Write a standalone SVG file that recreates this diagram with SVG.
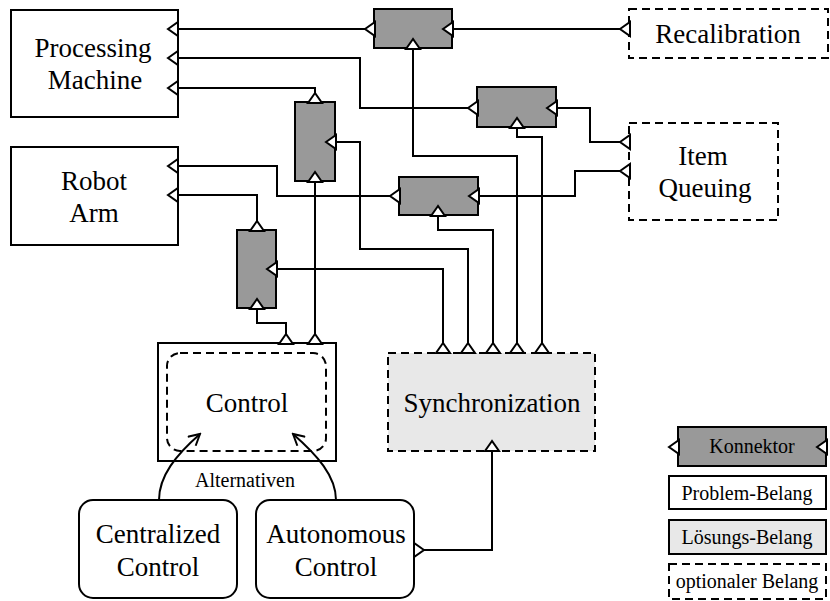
<svg xmlns="http://www.w3.org/2000/svg" width="830" height="601" viewBox="0 0 830 601">
<style>
text{font-family:"Liberation Serif","Times New Roman",serif;fill:#000;text-anchor:middle}
.t{font-size:27px}
.s{font-size:20px}
.box{fill:#fff;stroke:#000;stroke-width:2}
.opt{fill:#fff;stroke:#000;stroke-width:2;stroke-dasharray:8,5}
.sol{fill:#e8e8e8;stroke:#000;stroke-width:2;stroke-dasharray:8,5}
.con{fill:#999;stroke:#000;stroke-width:2}
.w{fill:none;stroke:#000;stroke-width:2}
.p{fill:#fff;stroke:#000;stroke-width:2;stroke-linejoin:miter}
</style>
<defs>
<polygon id="pl" class="p" points="0,0 10,-7 10,7"/>
<polygon id="pu" class="p" points="0,0 -7,10 7,10"/>
<polygon id="pr" class="p" points="0,0 -10,-7 -10,7"/>
<marker id="ah" viewBox="0 0 14 14" refX="12" refY="7" markerWidth="14" markerHeight="14" markerUnits="userSpaceOnUse" orient="auto">
<path d="M1,1 L12,7 L1,13" fill="none" stroke="#000" stroke-width="2"/>
</marker>
</defs>

<g id="connectors">
<polyline class="w" points="178,29 365,29"/>
<polyline class="w" points="452,29 620,29"/>
<polyline class="w" points="178,58 360,58 360,108 468,108"/>
<polyline class="w" points="556,108 590,108 590,142 620,142"/>
<polyline class="w" points="178,88 315,88 315,93"/>
<polyline class="w" points="335,142 360,142 360,249 468,249 468,343"/>
<polyline class="w" points="315,181 315,334"/>
<polyline class="w" points="178,166 277,166 277,196 390,196"/>
<polyline class="w" points="478,196 575,196 575,171 620,171"/>
<polyline class="w" points="178,195 257,195 257,221"/>
<polyline class="w" points="276,269 443,269 443,343"/>
<polyline class="w" points="257,308 257,323 286,323 286,334"/>
<polyline class="w" points="438,215 438,230 493,230 493,343"/>
<polyline class="w" points="413,48 413,156 517,156 517,343"/>
<polyline class="w" points="517,127 517,137 542,137 542,343"/>
<polyline class="w" points="492,451 492,550 424,550"/>
</g>

<g id="processing-machine">
<rect class="box" x="11" y="10" width="167" height="107"/>
<text class="t" x="93" y="57">Processing</text>
<text class="t" x="95" y="89">Machine</text>
<use href="#pl" x="168" y="29"/>
<use href="#pl" x="168" y="58"/>
<use href="#pl" x="168" y="88"/>
</g>

<g id="robot-arm">
<rect class="box" x="11" y="147" width="167" height="98"/>
<text class="t" x="94" y="190">Robot</text>
<text class="t" x="94" y="222">Arm</text>
<use href="#pl" x="168" y="166"/>
<use href="#pl" x="168" y="195"/>
</g>

<g id="recalibration">
<rect class="opt" x="629" y="9" width="199" height="49"/>
<text class="t" x="728" y="43">Recalibration</text>
<use href="#pl" x="620" y="29"/>
</g>

<g id="item-queuing">
<rect class="opt" x="629" y="123" width="149" height="97"/>
<text class="t" x="703" y="165">Item</text>
<text class="t" x="705" y="197">Queuing</text>
<use href="#pl" x="620" y="142"/>
<use href="#pl" x="620" y="171"/>
</g>

<g id="connector-1">
<rect class="con" x="374" y="9" width="78" height="39"/>
<use href="#pl" x="365" y="29"/>
<use href="#pl" x="443" y="29"/>
<use href="#pu" x="413" y="39"/>
</g>

<g id="connector-2">
<rect class="con" x="477" y="87" width="79" height="40"/>
<use href="#pl" x="468" y="108"/>
<use href="#pl" x="547" y="108"/>
<use href="#pu" x="517" y="118"/>
</g>

<g id="connector-3">
<rect class="con" x="295" y="102" width="40" height="79"/>
<use href="#pu" x="315" y="93"/>
<use href="#pl" x="326" y="142"/>
<use href="#pu" x="315" y="172"/>
</g>

<g id="connector-5">
<rect class="con" x="399" y="177" width="79" height="38"/>
<use href="#pl" x="390" y="196"/>
<use href="#pl" x="469" y="196"/>
<use href="#pu" x="438" y="206"/>
</g>

<g id="connector-4">
<rect class="con" x="237" y="230" width="39" height="78"/>
<use href="#pu" x="257" y="221"/>
<use href="#pl" x="267" y="269"/>
<use href="#pu" x="257" y="299"/>
</g>

<g id="control">
<rect class="box" x="158" y="343" width="178" height="118"/>
<rect x="167" y="353" width="159" height="98" rx="13" ry="13" fill="none" stroke="#000" stroke-width="2" stroke-dasharray="8,5"/>
<text class="t" x="247" y="412">Control</text>
<use href="#pu" x="286" y="334"/>
<use href="#pu" x="315" y="334"/>
</g>

<g id="synchronization">
<rect class="sol" x="388" y="353" width="207" height="98"/>
<text class="t" x="492" y="412">Synchronization</text>
<use href="#pu" x="443" y="343"/>
<use href="#pu" x="468" y="343"/>
<use href="#pu" x="493" y="343"/>
<use href="#pu" x="517" y="343"/>
<use href="#pu" x="542" y="343"/>
<use href="#pu" x="492" y="441"/>
</g>

<g id="centralized-control">
<rect class="box" x="79" y="500" width="158" height="98" rx="14" ry="14"/>
<text class="t" x="158" y="543">Centralized</text>
<text class="t" x="158" y="576">Control</text>
</g>

<g id="autonomous-control">
<rect class="box" x="256" y="500" width="158" height="98" rx="14" ry="14"/>
<text class="t" x="336" y="543">Autonomous</text>
<text class="t" x="336" y="576">Control</text>
<use href="#pr" x="424" y="550"/>
</g>

<g id="alternatives">
<path class="w" d="M159,500 C159,476 176,455 200,434" marker-end="url(#ah)"/>
<path class="w" d="M336,500 C336,476 317,455 293,434" marker-end="url(#ah)"/>
<text class="s" x="245" y="487">Alternativen</text>
</g>

<g id="legend">
<rect class="con" x="678" y="427" width="148" height="39"/>
<use href="#pl" x="669" y="447"/>
<use href="#pl" x="817" y="447"/>
<text class="s" x="752" y="453">Konnektor</text>
<rect class="box" x="669" y="476" width="157" height="33"/>
<text class="s" x="747" y="500">Problem-Belang</text>
<rect x="669" y="520" width="157" height="34" fill="#e8e8e8" stroke="#000" stroke-width="2"/>
<text class="s" x="747" y="544">Lösungs-Belang</text>
<rect class="opt" x="669" y="564" width="157" height="35"/>
<text class="s" x="747" y="588">optionaler Belang</text>
</g>
</svg>
